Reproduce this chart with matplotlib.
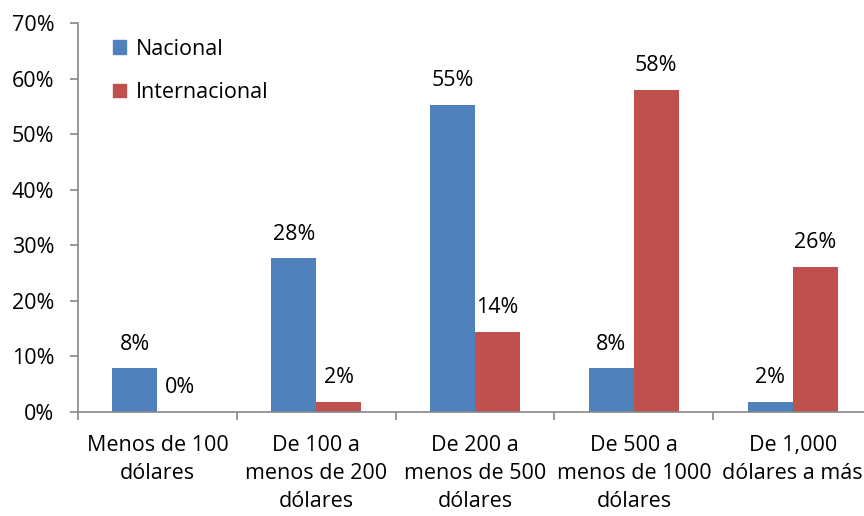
"""
Distribución de gasto: Nacional vs Internacional (gráfico de barras agrupadas).
"""
import matplotlib
matplotlib.use("Agg")
import matplotlib.pyplot as plt
import numpy as np
from matplotlib.patches import Patch

categories = [
    "Menos de 100\ndólares",
    "De 100 a\nmenos de 200\ndólares",
    "De 200 a\nmenos de 500\ndólares",
    "De 500 a\nmenos de 1000\ndólares",
    "De 1,000\ndólares a más",
]
nacional = [7.8, 27.6, 55.2, 7.8, 1.7]
internacional = [0.0, 1.7, 14.3, 58.0, 26.0]
nacional_labels = ["8%", "28%", "55%", "8%", "2%"]
internacional_labels = ["0%", "2%", "14%", "58%", "26%"]
yticks = [0, 10, 20, 30, 40, 50, 60, 70]

BLUE = "#4F81BD"
RED = "#C0504D"
AXIS_GRAY = "#868686"
FONT = "Open Sans"
FS = 15.5

plt.rcParams["font.family"] = [FONT, "DejaVu Sans"]

fig = plt.figure(figsize=(8.64, 5.16), dpi=100)
ax = fig.add_axes([0.0903, 0.2021, 0.919, 0.7533])

x = np.arange(len(categories))
width = 0.283

bars_n = ax.bar(x - width / 2, nacional, width, color=BLUE)
bars_i = ax.bar(x + width / 2, internacional, width, color=RED)

for rect, lab in zip(bars_n, nacional_labels):
    ax.annotate(lab, (rect.get_x() + rect.get_width() / 2, rect.get_height()),
                xytext=(0, 10), textcoords="offset points",
                ha="center", va="bottom", fontsize=FS)
for rect, lab in zip(bars_i, internacional_labels):
    ax.annotate(lab, (rect.get_x() + rect.get_width() / 2, rect.get_height()),
                xytext=(0, 10), textcoords="offset points",
                ha="center", va="bottom", fontsize=FS)

ax.set_xlim(-0.5, len(categories) - 0.5)
ax.set_ylim(0, 70)
ax.set_yticks(yticks)
ax.set_yticklabels([f"{v}%" for v in yticks], fontsize=FS)

ax.set_xticks(x)
ax.set_xticklabels(categories, fontsize=FS, linespacing=1.42)
ax.tick_params(axis="x", which="major", length=0, pad=17)
ax.set_xticks(np.arange(-0.5, len(categories), 1.0), minor=True)
ax.tick_params(axis="x", which="minor", length=6, color=AXIS_GRAY, width=1.2)
ax.tick_params(axis="y", length=6, color=AXIS_GRAY, width=1.2, pad=11)

for side in ["top", "right"]:
    ax.spines[side].set_visible(False)
for side in ["left", "bottom"]:
    ax.spines[side].set_color(AXIS_GRAY)
    ax.spines[side].set_linewidth(1.2)

handles = [Patch(color=BLUE, label="Nacional"), Patch(color=RED, label="Internacional")]
ax.legend(handles=handles, loc="upper left", bbox_to_anchor=(0.02, 1.01),
          frameon=False, fontsize=FS, handlelength=0.6, handleheight=0.6,
          handletextpad=0.45, labelspacing=1.05)

fig.savefig("out.png", dpi=100)
